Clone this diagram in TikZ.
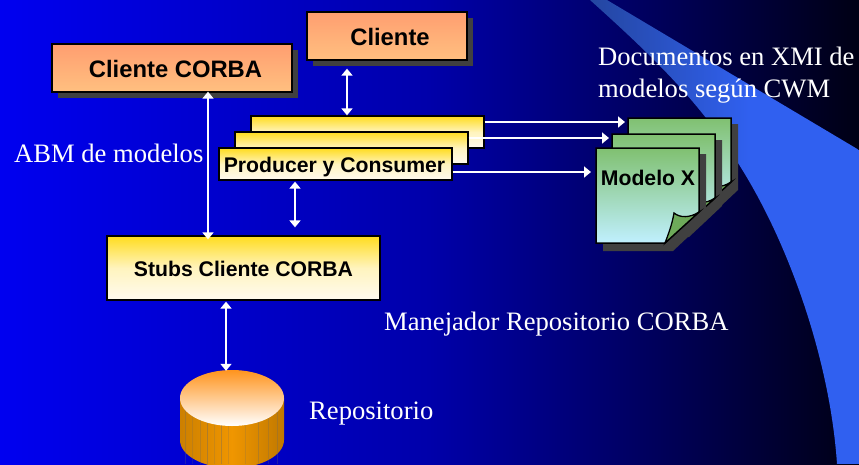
\documentclass[tikz,border=0pt]{standalone}
\usepackage{fontspec}
\setmainfont{Liberation Serif}
\setsansfont{Liberation Sans}
\usetikzlibrary{shadows,arrows.meta,calc}
\definecolor{bgL}{RGB}{0,0,240}
\definecolor{bgM}{RGB}{0,0,170}
\definecolor{bgR}{RGB}{0,0,20}
\definecolor{swA}{RGB}{36,70,160}
\definecolor{swB}{RGB}{48,96,240}
\definecolor{shad}{RGB}{64,64,64}
\definecolor{orT}{RGB}{255,158,112}
\definecolor{orB}{RGB}{255,192,128}
\definecolor{yeT}{RGB}{255,220,30}
\definecolor{yeM}{RGB}{255,244,190}
\definecolor{yeB}{RGB}{255,250,240}
\definecolor{grT}{RGB}{128,192,112}
\definecolor{grB}{RGB}{192,240,255}
\definecolor{grF}{RGB}{110,170,90}
\definecolor{cyl}{RGB}{240,150,0}
\definecolor{cyT}{RGB}{255,148,30}
\tikzset{
 x=1pt,y=-1pt,
 lbl/.style={text=white,font=\fontsize{26.6}{32}\selectfont,align=left,inner sep=0pt},
 sq/.style={draw=black,line width=1.3pt,inner sep=0pt,font=\sffamily\bfseries\fontsize{21.2}{25}\selectfont},
 orbox/.style={sq,font=\sffamily\bfseries\fontsize{23.8}{28}\selectfont,top color=orT,bottom color=orB,drop shadow={shadow xshift=6pt,shadow yshift=-6pt,fill=shad,opacity=1}},
 yebox/.style={sq,top color=yeT,bottom color=yeB,middle color=yeM},
 dbl/.style={draw=white,line width=1.7pt,{Triangle[width=11pt,length=7pt]}-{Triangle[width=11pt,length=7pt]}},
 sgl/.style={draw=white,line width=1.7pt,-{Triangle[width=11pt,length=7pt]}},
 pg/.style={draw=black,line width=1.5pt,top color=grT,bottom color=grB},
}
\newcommand{\docsheet}{%
  \fill[shad] (603,154) -- (706,154) -- (706,220) -- (673,251) -- (603,251) -- cycle;
  \path[pg] (596,148) -- (699,148) -- (699,212) -- (665,243) -- (596,243) -- cycle;
  \path[draw=black,line width=1.3pt,fill=grF] (699,212) .. controls (690,218) and (680,218) .. (674,213) .. controls (672,225) and (668,235) .. (665,243) -- cycle;
}
\begin{document}
\begin{tikzpicture}
\useasboundingbox (0,0) rectangle (859,464);
\shade[left color=bgL,right color=bgR,middle color=bgM,shading=axis] (0,0) rectangle (859,464);
% swoosh
\begin{scope}
\clip (590,0) .. controls (670,72) and (730,130) .. (779,240)
  .. controls (810,310) and (832,390) .. (837,464) -- (859,464) -- (859,150) -- (607,0) -- cycle;
\shade[left color=swA,right color=swB] (590,0) rectangle (750,464);
\fill[swB] (750,0) rectangle (859,464);
\end{scope}
% labels
\node[lbl,anchor=west] (ldoc) at (598,75.5) {Documentos en XMI de\\modelos según CWM};
\node[lbl,anchor=west] (labm) at (14,153) {ABM de modelos};
\node[lbl,anchor=west] (lman) at (384,324) {Manejador Repositorio CORBA};
\node[lbl,anchor=west] (lrep) at (309,414) {Repositorio};
% boxes
\node[orbox,minimum width=240pt,minimum height=48pt] (cc) at (172,68) {\hspace*{7pt}\raisebox{-9.5pt}[0pt][0pt]{Cliente CORBA}};
\node[orbox,minimum width=160pt,minimum height=48pt] (cl) at (387,36) {\hspace*{6pt}\raisebox{-9.5pt}[0pt][0pt]{Cliente}};
\node[yebox,minimum width=233pt,minimum height=32pt] (p3) at (367.5,132) {};
\node[yebox,minimum width=233pt,minimum height=32pt] (p2) at (351.5,148) {};
\node[yebox,minimum width=233pt,minimum height=32pt] (p1) at (335.5,164) {\raisebox{-8.5pt}[0pt][0pt]{Producer y Consumer}\hspace*{2pt}};
\node[yebox,minimum width=273pt,minimum height=64pt] (st) at (243.5,268) {\raisebox{-8.6pt}[0pt][0pt]{Stubs Cliente CORBA}};
% repository
\node[minimum width=104pt,minimum height=56pt,inner sep=0pt] (rp) at (232,398) {};
\begin{scope}
\clip (0,0) rectangle (859,464);
\shade[left color=cyl!85!black,right color=cyl!80!black,middle color=cyl]
 (180,398) -- (180,440) arc[x radius=52,y radius=-28,start angle=180,end angle=360] -- (284,398) -- cycle;
\foreach \sx/\so in {185/.3,192/.2,200/.25,207/.4,214/.2,221/.35,228/.2,245/.2,258/.3,268/.25,277/.3}
 \draw[black!60,opacity=\so,line width=1pt] (\sx,410) -- (\sx,464);
\end{scope}
\shade[top color=cyT,bottom color=white] (232,398) ellipse[x radius=52,y radius=28];
% documents
\begin{scope}[shift={(32,-30)}]\docsheet\end{scope}
\begin{scope}[shift={(16,-14)}]\docsheet\end{scope}
\docsheet
\node[font=\sffamily\bfseries\fontsize{21.2}{25}\selectfont,text=black,inner sep=0pt] (mt) at (648,178) {Modelo X};
% connectors
\coordinate (a1) at (208,0);
\coordinate (a2) at (347,0);
\coordinate (a3) at (295,0);
\coordinate (a4) at (226,0);
\draw[dbl,shorten <=-1pt,shorten >=-4pt] (a1 |- cc.south) -- (a1 |- st.north);
\draw[dbl,shorten <=8pt,shorten >=0pt] (a2 |- cl.south) -- (a2 |- p3.north);
\draw[dbl,shorten <=1pt,shorten >=8pt] (a3 |- p1.south) -- (a3 |- st.north);
\draw[dbl,shorten <=1pt,shorten >=-1pt] (a4 |- st.south) -- (a4 |- rp.north);
\coordinate (d3) at (625,122);
\coordinate (d2) at (609,138);
\coordinate (d1) at (591,172);
\draw[sgl] (d3 -| p3.east) -- (d3);
\draw[sgl] (d2 -| p2.east) -- (d2);
\draw[sgl] (d1 -| p1.east) -- (d1);
\end{tikzpicture}
\end{document}
